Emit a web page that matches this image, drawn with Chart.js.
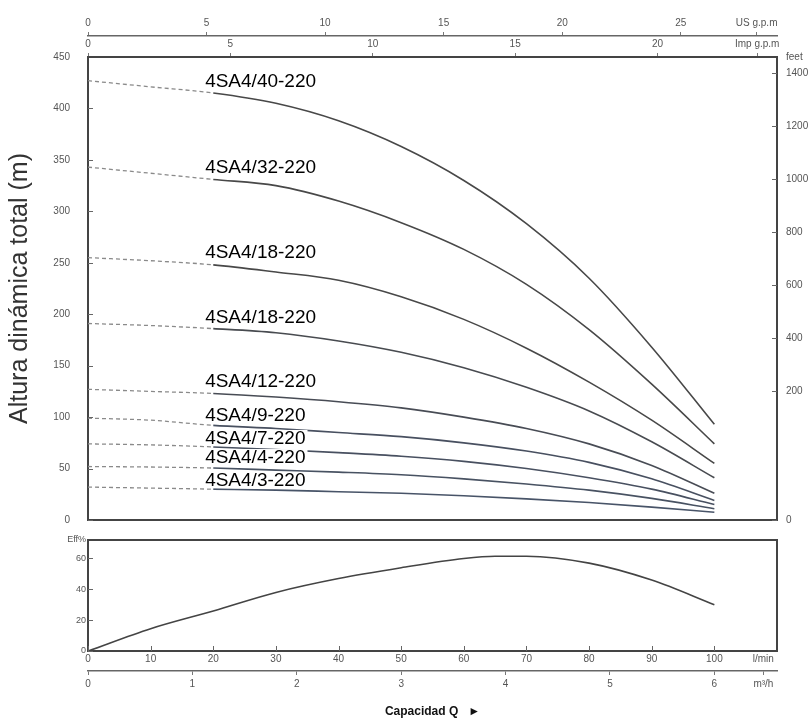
<!DOCTYPE html>
<html><head><meta charset="utf-8">
<script src="https://cdn.jsdelivr.net/npm/chart.js@4"></script>
<style>
html,body{margin:0;padding:0;background:#fff;}
#wrap{position:relative;width:810px;height:721px;background:#fff;}
canvas{position:absolute;left:0;}
#c1{top:0} #c2{top:530px}
</style></head><body>
<div id="wrap"><canvas id="c1" width="810" height="530"></canvas><canvas id="c2" width="810" height="191"></canvas></div>
<script>
// ---- data (flow in l/min, head in m) ----
const flowLpm = [0, 10, 20, 30, 40, 50, 60, 70, 80, 90, 100];
const head40  = [427, 421, 415, 405, 388, 363, 330, 288, 235, 168, 93];
const head32  = [343, 337, 331, 325, 310, 289, 263, 229, 185, 132, 74];
const head18a = [255, 252, 248, 241, 233, 217, 195, 167, 134, 97, 55];
const head18b = [191, 189, 186, 182, 174, 163, 148, 129, 106, 76, 41];
const head12  = [127, 125, 123, 119.5, 115, 109, 100, 89, 74, 53, 26];
const head9   = [99, 97, 92, 89, 85, 81, 75, 67, 56, 40, 19];
const head7   = [74, 73, 71, 68.5, 65.5, 62, 57, 50, 41, 30, 15];
const head4   = [52, 51.5, 50.5, 48.5, 46.5, 44, 40, 35, 29, 21, 11];
const head3   = [32, 31, 30, 29, 27.5, 26, 23.5, 20.5, 17, 12.5, 7.5];
const curveLabels = ['4SA4/40-220','4SA4/32-220','4SA4/18-220','4SA4/18-220','4SA4/12-220','4SA4/9-220','4SA4/7-220','4SA4/4-220','4SA4/3-220'];
const effFlow = [0, 10, 20, 30, 40, 50, 60, 65, 70, 80, 90, 100];
const effPct  = [0, 14.5, 26, 38, 47, 54, 60, 61.5, 61.5, 57, 46, 30];

// tick labels
const headTicks = [0, 50, 100, 150, 200, 250, 300, 350, 400, 450];
const feetTickValues = [-287, 200, 400, 600, 800, 1000, 1200, 1400];
const feetTickLabels = ['0', '200', '400', '600', '800', '1000', '1200', '1400'];
const usGpmTicks = [0, 5, 10, 15, 20, 25];
const impGpmTicks = [0, 5, 10, 15, 20];
const lpmTicks = [0, 10, 20, 30, 40, 50, 60, 70, 80, 90, 100];
const m3hTicks = [0, 1, 2, 3, 4, 5, 6];
const effTicks = [0, 20, 40, 60];

const heads = [head40, head32, head18a, head18b, head12, head9, head7, head4, head3];
const dashUntil = 20;      // l/min, dashed part of the curves
const labelFlow = 18.7;    // l/min where curve labels start
const flowMax = 110;
// styling: how far (px) each label sits above its curve
const labelLift = [12, 13, 13, 12, 13, 11, 9, 11, 9];

Chart.defaults.font.family = '"Liberation Sans", Arial, sans-serif';
Chart.defaults.color = '#555';

function customTicks(values, labels, unitValue, unitLabel) {
  return {
    afterBuildTicks: s => {
      s.ticks = values.map(v => ({ value: v }));
      if (unitLabel) s.ticks.push({ value: unitValue });
    },
    callback: (v, i, t) => (unitLabel && i === t.length - 1) ? unitLabel : (labels ? labels[i] : String(v))
  };
}

const innerTicks = {
  id: 'innerTicks',
  afterDraw(chart, args, opts) {
    const ctx = chart.ctx, a = chart.chartArea;
    ctx.save(); ctx.strokeStyle = '#666'; ctx.lineWidth = 1;
    (opts.list || []).forEach(item => {
      const s = chart.scales[item.id]; if (!s) return;
      const n = s.ticks.length - (item.skipLast ? 1 : 0);
      for (let i = 0; i < n; i++) {
        const p = Math.round(s.getPixelForValue(s.ticks[i].value)) + 0.5;
        ctx.beginPath();
        if (s.position === 'left') { ctx.moveTo(a.left, p); ctx.lineTo(a.left + 5, p); }
        else if (s.position === 'right') { ctx.moveTo(a.right, p); ctx.lineTo(a.right - 5, p); }
        else if (s.position === 'bottom') { ctx.moveTo(p, a.bottom); ctx.lineTo(p, a.bottom - 5); }
        ctx.stroke();
      }
    });
    ctx.restore();
  }
};

const curveLabelPlugin = {
  id: 'curveLabels',
  afterDatasetsDraw(chart) {
    const ctx = chart.ctx, xs = chart.scales.x, ys = chart.scales.y;
    ctx.save();
    ctx.font = '19px "Liberation Sans", Arial, sans-serif';
    ctx.textBaseline = 'middle';
    chart.data.datasets.forEach((ds, i) => {
      const x = xs.getPixelForValue(labelFlow);
      const y = ys.getPixelForValue(ds.data[2].y) - labelLift[i];
      const w = ctx.measureText(curveLabels[i]).width;
      ctx.fillStyle = '#fff';
      ctx.fillRect(x - 1, y - 8, w + 3, 16);
      ctx.fillStyle = '#000';
      ctx.fillText(curveLabels[i], x, y + 1);
    });
    ctx.restore();
  }
};

const curveColors = ['#484848', '#484848', '#484848', '#484b50', '#484c55', '#485060', '#485060', '#485262', '#485468'];
const hiddenTicks = len => ({ display: false, drawTicks: true, tickLength: len });
const noTicks = { display: false, drawTicks: false };

new Chart(document.getElementById('c1'), {
  type: 'line',
  data: {
    datasets: heads.map((h, i) => ({
      label: curveLabels[i],
      data: flowLpm.map((q, j) => ({ x: q, y: h[j] })),
      borderColor: curveColors[i],
      borderWidth: 1.6,
      pointRadius: 0,
      cubicInterpolationMode: 'monotone',
      segment: {
        borderDash: c => c.p1.parsed.x <= dashUntil ? [4, 3] : undefined,
        borderColor: c => c.p1.parsed.x <= dashUntil ? '#8a8a8a' : undefined,
        borderWidth: c => c.p1.parsed.x <= dashUntil ? 1.3 : undefined
      },
      xAxisID: 'x', yAxisID: 'y'
    }))
  },
  options: {
    responsive: false, animation: false,
    layout: { padding: 0 },
    plugins: { legend: { display: false }, tooltip: { enabled: false },
      innerTicks: { list: [{ id: 'y', skipLast: true }, { id: 'feet', skipLast: true }] } },
    scales: {
      x: { type: 'linear', position: 'bottom', min: 0, max: flowMax,
        ticks: { display: false }, grid: noTicks,
        border: { display: true, color: '#444', width: 2 },
        afterFit: s => { s.height = 10; } },
      imp: { type: 'linear', axis: 'x', position: 'top', weight: 0, min: 0, max: flowMax / 4.54609,
        afterBuildTicks: customTicks(impGpmTicks, null, 23.5, 'Imp g.p.m').afterBuildTicks,
        ticks: { callback: customTicks(impGpmTicks, null, 23.5, 'Imp g.p.m').callback, autoSkip: false, maxRotation: 0, font: { size: 10 }, padding: 3 },
        grid: { drawOnChartArea: false, drawTicks: true, tickLength: 4, color: '#777' },
        border: { display: true, color: '#444', width: 2 },
        afterFit: s => { s.height = 21; } },
      us: { type: 'linear', axis: 'x', position: 'top', weight: 1, min: 0, max: flowMax / 3.78541,
        afterBuildTicks: customTicks(usGpmTicks, null, 28.2, 'US g.p.m').afterBuildTicks,
        ticks: { callback: customTicks(usGpmTicks, null, 28.2, 'US g.p.m').callback, autoSkip: false, maxRotation: 0, font: { size: 10 }, padding: 3 },
        grid: { drawOnChartArea: false, drawTicks: true, tickLength: 4, color: '#777' },
        border: { display: true, color: '#666', width: 1.5 },
        afterFit: s => { s.height = 36; } },
      y: { type: 'linear', position: 'left', min: 0, max: 450,
        afterBuildTicks: customTicks(headTicks).afterBuildTicks,
        ticks: { callback: customTicks(headTicks).callback, autoSkip: false, font: { size: 10 }, padding: 3 },
        grid: hiddenTicks(15),
        border: { display: true, color: '#444', width: 2 },
        title: { display: true, text: 'Altura dinámica total (m)', color: '#333', font: { size: 25 }, padding: { top: 5, bottom: 0 } },
        afterFit: s => { s.width = 88; } },
      feet: { type: 'linear', axis: 'y', position: 'right', min: -287, max: 1460,
        afterBuildTicks: customTicks(feetTickValues, feetTickLabels, 1460, 'feet').afterBuildTicks,
        ticks: { callback: customTicks(feetTickValues, feetTickLabels, 1460, 'feet').callback, autoSkip: false, font: { size: 10 }, padding: 2 },
        grid: hiddenTicks(7),
        border: { display: true, color: '#444', width: 2 },
        afterFit: s => { s.width = 33; } }
    }
  },
  plugins: [innerTicks, curveLabelPlugin]
});

new Chart(document.getElementById('c2'), {
  type: 'line',
  data: {
    datasets: [{
      label: 'Eff %',
      data: effFlow.map((q, j) => ({ x: q, y: effPct[j] })),
      borderColor: '#444', borderWidth: 1.6, pointRadius: 0,
      cubicInterpolationMode: 'monotone', xAxisID: 'x', yAxisID: 'y'
    }]
  },
  options: {
    responsive: false, animation: false,
    layout: { padding: 0 },
    plugins: { legend: { display: false }, tooltip: { enabled: false },
      innerTicks: { list: [{ id: 'y', skipLast: true }, { id: 'x', skipLast: true }] } },
    scales: {
      x: { type: 'linear', position: 'bottom', weight: 0, min: 0, max: flowMax,
        afterBuildTicks: customTicks(lpmTicks, null, 107.8, 'l/min').afterBuildTicks,
        ticks: { callback: customTicks(lpmTicks, null, 107.8, 'l/min').callback, autoSkip: false, maxRotation: 0, font: { size: 10 }, padding: 2 },
        grid: noTicks,
        border: { display: true, color: '#444', width: 2 },
        afterFit: s => { s.height = 20; } },
      m3: { type: 'linear', axis: 'x', position: 'bottom', weight: 1, min: 0, max: flowMax * 0.06,
        afterBuildTicks: customTicks(m3hTicks, null, 6.47, 'm³/h').afterBuildTicks,
        ticks: { callback: customTicks(m3hTicks, null, 6.47, 'm³/h').callback, autoSkip: false, maxRotation: 0, font: { size: 10 }, padding: 3 },
        grid: { drawOnChartArea: false, drawTicks: true, tickLength: 4, color: '#777' },
        border: { display: true, color: '#666', width: 1.5 },
        title: { display: true, text: 'Capacidad Q   ►', color: '#111',
          font: { size: 12, weight: 'bold', family: '"Liberation Sans Narrow", "Liberation Sans", Arial, sans-serif' },
          padding: { top: 0, bottom: 2 } },
        afterFit: s => { s.height = 50; } },
      xt: { type: 'linear', axis: 'x', position: 'top', min: 0, max: flowMax,
        ticks: { display: false }, grid: noTicks,
        border: { display: true, color: '#444', width: 2 },
        afterFit: s => { s.height = 10; } },
      y: { type: 'linear', position: 'left', min: 0, max: 72,
        afterBuildTicks: customTicks(effTicks, null, 72, 'Eff%').afterBuildTicks,
        ticks: { callback: customTicks(effTicks, null, 72, 'Eff%').callback, autoSkip: false, font: { size: 9 }, padding: 2 },
        grid: noTicks,
        border: { display: true, color: '#444', width: 2 },
        afterFit: s => { s.width = 88; } },
      yr: { type: 'linear', axis: 'y', position: 'right', min: 0, max: 72,
        ticks: { display: false }, grid: noTicks,
        border: { display: true, color: '#444', width: 2 },
        afterFit: s => { s.width = 33; } }
    }
  },
  plugins: [innerTicks]
});
</script>
</body></html>
